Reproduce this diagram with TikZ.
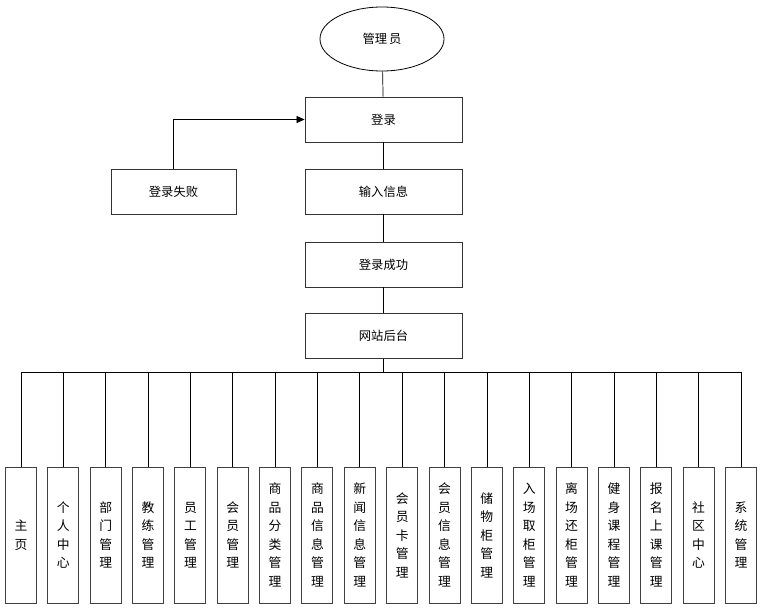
\documentclass[tikz,border=0pt]{standalone}
\usepackage{fontspec}
\setmainfont{Noto Sans CJK SC}
\usetikzlibrary{arrows.meta,shapes.geometric}
\begin{document}
\begin{tikzpicture}[x=1pt,y=-1pt,
  box/.style={draw=black!80,line width=0.9pt,minimum width=157pt,minimum height=45pt,inner sep=0pt,font=\fontsize{12.3}{14}\selectfont},
  leaf/.style={draw=black!75,line width=1pt,minimum width=31pt,minimum height=136pt,inner sep=0pt,align=center,font=\fontsize{12.8}{18.5}\selectfont},
  conn/.style={draw=black,line width=0.7pt}]
\useasboundingbox (0,0) rectangle (761,613);
\node[draw=black,line width=0.8pt,ellipse,minimum width=124pt,minimum height=64pt,inner sep=0pt,font=\fontsize{12.3}{14}\selectfont] (admin) at (382,39) {管理\,员};
\node[box] (login) at (383.5,119.5) {登录};
\node[box] (input) at (383.5,191.5) {输入信息};
\node[box,minimum width=125pt] (fail) at (173.5,191.5) {登录失败};
\node[box] (ok) at (383.5,264.5) {登录成功};
\node[box] (site) at (383.5,336) {网站后台};
\draw[conn] (admin) -- (login);
\draw[conn] (login) -- (input);
\draw[conn] (input) -- (ok);
\draw[conn] (ok) -- (site);
\draw[conn,-{Triangle[length=8pt,width=7pt]}] (fail.north) |- (login.west);
\coordinate (bus) at (383.5,372);
\draw[conn] (site.south) -- (bus);
\foreach \i/\t in {0/{主\\页},1/{个\\人\\中\\心},2/{部\\门\\管\\理},3/{教\\练\\管\\理},4/{员\\工\\管\\理},5/{会\\员\\管\\理},6/{商\\品\\分\\类\\管\\理},7/{商\\品\\信\\息\\管\\理},8/{新\\闻\\信\\息\\管\\理},9/{会\\员\\卡\\管\\理},10/{会\\员\\信\\息\\管\\理},11/{储\\物\\柜\\管\\理},12/{入\\场\\取\\柜\\管\\理},13/{离\\场\\还\\柜\\管\\理},14/{健\\身\\课\\程\\管\\理},15/{报\\名\\上\\课\\管\\理},16/{社\\区\\中\\心},17/{系\\统\\管\\理}}{
  \node[leaf] (m\i) at (21+42.35*\i,535) {\t};
  \coordinate (t\i) at (21+42.35*\i,372);
  \draw[conn] (t\i) -- (m\i.north);
}
\draw[conn] (t0) -- (t17);
\end{tikzpicture}
\end{document}
